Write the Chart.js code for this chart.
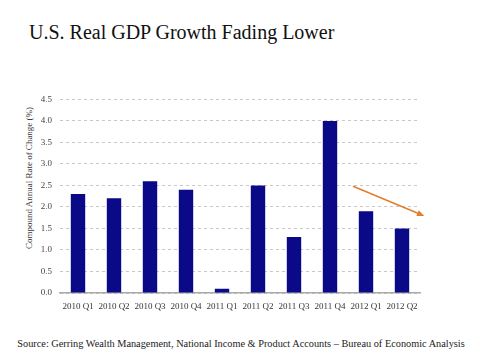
<!DOCTYPE html>
<html lang="en">
<head>
  <meta charset="UTF-8">
  <title>U.S. Real GDP Growth Fading Lower</title>
  <script src="https://cdn.jsdelivr.net/npm/chart.js@4.4.1/dist/chart.umd.min.js"></script>
  <style>
    body {
      margin: 0;
      width: 480px;
      height: 360px;
      background: #fff;
      position: relative;
      overflow: hidden;
      font-family: "Liberation Serif", serif;
    }
    #title {
      position: absolute;
      left: 29px;
      top: 21px;
      font-size: 20px;
      color: #111;
      white-space: nowrap;
    }
    #ytitle {
      position: absolute;
      left: 29px;
      top: 178px;
      transform: translate(-50%, -50%) rotate(-90deg);
      font-size: 9px;
      color: #333;
      white-space: nowrap;
    }
    #source {
      position: absolute;
      left: 0;
      width: 482px;
      top: 338px;
      text-align: center;
      font-size: 10.3px;
      color: #222;
      white-space: nowrap;
    }
    #chart-container {
      position: absolute;
      left: 0;
      top: 86px;
      width: 440px;
      height: 232px;
    }
  </style>
</head>
<body>
  <div id="title">U.S. Real GDP Growth Fading Lower</div>
  <div id="ytitle">Compound Annual Rate of Change (%)</div>
  <div id="chart-container">
    <canvas id="gdpChart"></canvas>
  </div>
  <div id="source">Source: Gerring Wealth Management, National Income &amp; Product Accounts – Bureau of Economic Analysis</div>

  <script>
    const quarters = ['2010 Q1', '2010 Q2', '2010 Q3', '2010 Q4', '2011 Q1', '2011 Q2', '2011 Q3', '2011 Q4', '2012 Q1', '2012 Q2'];
    const growth = [2.3, 2.2, 2.6, 2.4, 0.1, 2.5, 1.3, 4.0, 1.9, 1.5];
    // trend arrow: start / end in data units (category index, %)
    const arrowX = [7.64, 9.62];
    const arrowY = [2.48, 1.79];

    const trendArrow = {
      id: 'trendArrow',
      afterDatasetsDraw(chart) {
        const { ctx, scales: { x, y } } = chart;
        const x1 = x.getPixelForValue(arrowX[0]), y1 = y.getPixelForValue(arrowY[0]);
        const x2 = x.getPixelForValue(arrowX[1]), y2 = y.getPixelForValue(arrowY[1]);
        const ang = Math.atan2(y2 - y1, x2 - x1);
        ctx.save();
        ctx.strokeStyle = '#e0802e';
        ctx.fillStyle = '#e0802e';
        ctx.lineWidth = 1.6;
        ctx.beginPath();
        ctx.moveTo(x1, y1);
        ctx.lineTo(x2 - 5 * Math.cos(ang), y2 - 5 * Math.sin(ang));
        ctx.stroke();
        ctx.beginPath();
        ctx.moveTo(x2, y2);
        ctx.lineTo(x2 - 8 * Math.cos(ang - 0.4), y2 - 8 * Math.sin(ang - 0.4));
        ctx.lineTo(x2 - 8 * Math.cos(ang + 0.4), y2 - 8 * Math.sin(ang + 0.4));
        ctx.closePath();
        ctx.fill();
        ctx.restore();
      }
    };

    const ctx = document.getElementById('gdpChart').getContext('2d');
    new Chart(ctx, {
      type: 'bar',
      data: {
        labels: quarters,
        datasets: [{
          data: growth,
          backgroundColor: '#0a0a88',
          barPercentage: 0.8,
          categoryPercentage: 0.5
        }]
      },
      options: {
        responsive: true,
        maintainAspectRatio: false,
        animation: false,
        layout: { padding: { top: 0, right: 20, left: 0, bottom: 0 } },
        plugins: {
          legend: { display: false },
          tooltip: { enabled: false }
        },
        scales: {
          x: {
            grid: { display: false, drawTicks: false },
            border: { display: true, color: '#aaa', width: 1.5 },
            ticks: {
              color: '#333',
              font: { family: '"Liberation Serif", serif', size: 9 },
              padding: 8,
              maxRotation: 0,
              autoSkip: false
            },
            afterFit(scale) { scale.height = 25; }
          },
          y: {
            min: 0,
            max: 4.5,
            ticks: {
              stepSize: 0.5,
              color: '#444',
              font: { family: '"Liberation Serif", serif', size: 9 },
              padding: 8,
              callback: v => v.toFixed(1)
            },
            grid: {
              color: '#c8c8c8',
              drawTicks: false
            },
            border: { display: false, dash: [3, 3] },
            afterFit(scale) { scale.width = 60; }
          }
        }
      },
      plugins: [trendArrow]
    });
  </script>
</body>
</html>
